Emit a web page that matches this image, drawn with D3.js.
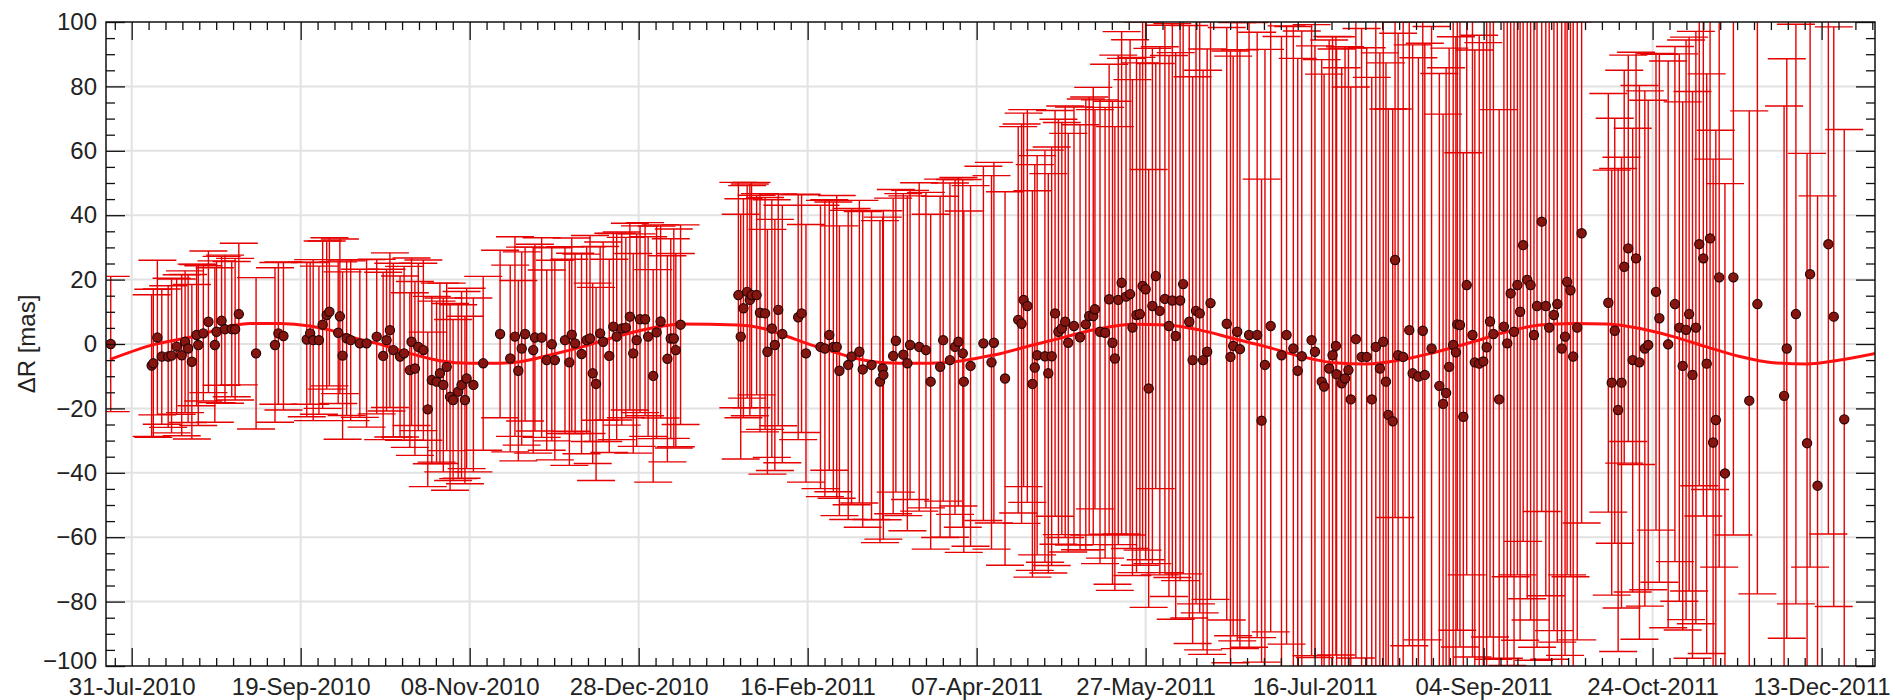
<!DOCTYPE html>
<html>
<head>
<meta charset="utf-8">
<script src="https://cdn.jsdelivr.net/npm/d3@7"></script>
<style>
  body { margin: 0; background: #fff; }
  text { font-family: "Liberation Sans", Arial, Helvetica, sans-serif; fill: #222; }
</style>
</head>
<body>
<svg id="chart"></svg>
<script>
// epochs are days counted from 31-Jul-2010
var epochDay = [-6.2,
  5.9, 6.4, 7.6, 8.9, 10.8, 11.8, 13.3, 14.8, 15.8, 16.7, 17.8, 19.2, 19.7, 21.2, 22.7, 24.6, 25.1, 26.6, 27.6, 29.6, 30.6, 31.7,
  36.8, 42.4, 43.4, 44.9,
  51.8, 52.8, 53.7, 55.4, 56.5, 57.7, 58.5, 61.1, 61.6, 62.4, 63.6, 64.8, 67.5, 69.5, 72.5, 74.4, 75.4, 76.4, 77.4,
  79.4, 80.6, 82.3, 82.8, 83.8, 84.8, 86.3, 87.6, 88.8, 90.2, 91.2, 92.2, 93.2, 94.2, 95.1, 96.6, 97.6, 98.6, 99.1, 101.1, 104.0,
  109.0, 112.0, 113.4, 114.4, 115.4, 116.4, 118.8, 119.3, 121.3, 122.8, 124.3, 125.2, 128.2, 129.5, 130.2, 131.2, 133.1, 134.6,
  135.6, 136.4, 137.4, 138.6, 139.5, 141.3, 142.5, 143.5, 145.0, 146.2, 147.4, 148.4, 149.4, 150.4, 151.9, 152.8, 154.3, 155.3,
  156.5, 158.5, 159.5, 160.4, 161.0, 162.4,
  179.5, 180.2, 181.0, 182.1, 182.9, 183.4, 184.9, 185.9, 187.4, 188.1, 189.4, 190.3, 191.3, 192.5, 197.2, 198.2, 199.5,
  203.8, 205.1, 206.4, 207.6, 208.6, 209.4, 212.0, 213.0, 215.3, 216.3, 218.9, 221.4, 222.2, 222.4, 225.3, 226.1, 228.3, 229.5,
  230.3, 233.0, 235.0, 236.4, 239.2, 240.1, 242.1, 243.6, 244.6, 245.9, 246.2, 248.2, 252.0, 254.4, 255.1, 258.4,
  262.3, 263.3, 263.9, 265.0, 266.5, 267.2, 267.9, 270.2, 271.2, 272.2, 273.2, 274.2, 275.2, 276.2, 277.1, 278.8, 280.6, 282.3,
  283.3, 284.5, 285.0, 286.5, 288.0, 289.2, 290.2, 290.9, 291.9, 292.9, 294.2, 295.4, 296.1, 297.3, 298.3, 299.1, 300.0, 300.9,
  302.0, 303.0, 304.2, 305.7, 306.9, 307.9, 308.9, 310.2, 311.1, 312.9, 313.9, 314.9, 316.0, 317.0, 318.2, 319.2,
  324.0, 325.1, 325.9, 327.1, 327.9, 330.6, 333.0, 334.3, 335.3, 337.0, 340.2, 341.7, 343.7, 345.0, 346.2, 349.1, 350.1, 352.1,
  352.8, 354.3, 355.3, 356.3, 356.5, 358.0, 359.0, 360.0, 360.7, 362.2, 363.9, 365.4, 366.9, 368.1, 369.3, 370.3, 371.1, 371.8,
  373.1, 373.8, 374.7, 376.2, 378.0, 379.0, 380.7, 382.0, 382.6, 384.6, 386.9, 388.0, 388.9, 389.8, 391.0, 391.8, 392.2, 393.0, 394.0,
  395.0, 396.7, 397.4, 398.7, 399.9, 400.9, 401.9, 402.9, 404.6, 406.0, 407.0, 408.0, 409.0, 410.0, 410.8, 411.7, 412.9, 413.9,
  414.9, 415.8, 417.2, 418.4, 419.4, 420.8, 421.8, 423.1, 424.1, 424.7, 425.7, 426.5, 427.7, 429.0,
  436.9, 437.9, 438.8, 439.8, 440.8, 441.6, 442.8, 444.1, 445.1, 446.1, 447.7, 448.7, 451.0, 452.0, 454.6, 456.6, 457.9, 458.9,
  459.9, 460.8, 461.8, 462.8, 463.8, 465.0, 466.0, 467.0, 467.9, 468.7, 469.7, 471.4, 473.9,
  478.6, 481.0, 488.9, 489.7, 492.4, 495.7, 496.6, 498.8, 502.0, 503.6, 506.7];

var offsetMas = [0.0,
  -6.7, -6.0, 2.0, -3.9, -3.9, -3.6, -0.8, -3.5, 0.7, -1.4, -5.5, 2.8, -0.3, 3.3, 6.9, -0.3, 3.8, 7.2, 4.6, 4.6, 4.6, 9.3,
  -2.9, -0.3, 3.3, 2.5,
  1.4, 3.3, 1.2, 1.2, 6.0, 9.0, 10.0, 3.5, 8.6, -3.6, 1.8, 1.2, 0.2, 0.2, 2.3, -3.7, 1.2, 4.3, -1.9,
  -3.9, -2.9, -8.1, 0.7, -7.6, -0.9, -1.9, -20.3, -11.2, -11.7, -9.1, -12.7, -7.1, -16.4, -17.4, -14.8, -12.7, -17.4, -10.7, -12.7, -6.0,
  3.1, -4.5, 2.3, -8.3, -1.4, 3.1, -1.9, 2.0, 2.0, -5.0, -0.1, -5.0, 1.2, -5.7, 2.9, 0.2, -3.1, 1.2,
  1.7, -9.1, -12.4, 3.3, 0.7, -3.7, 5.4, 2.3, 4.8, 5.1, 8.5, -2.9, 1.2, 7.7, 7.7, 2.3, -9.9, 3.6,
  7.0, -4.6, 1.7, 1.7, -1.9, 6.0,
  15.2, 2.3, 11.1, 16.2, 13.7, 15.2, 15.2, 9.7, 9.5, -2.4, 4.8, -0.3, 10.6, 3.1, 8.3, 9.5, -2.9,
  -0.9, -1.4, 2.8, -0.9, -0.9, -8.3, -6.5, -3.9, -2.4, -7.9, -6.5, -11.7, -7.6, -9.6, -3.7, 1.0, -3.3, -6.0,
  -0.3, -0.9, -1.9, -11.7, -7.1, 1.2, -5.0, -0.9, 0.7, -2.9, -11.7, -6.8, 0.2, -5.7, 0.4, -10.7,
  7.5, 6.3, 13.7, 11.8, -12.4, -7.3, -3.5, -3.8, -9.1, -3.8, 9.5, 3.8, 4.8, 6.9, 0.4, 5.6, 2.1, 6.1,
  8.7, 8.7, 10.8, 3.8, 3.5, 13.9, 0.4, -4.5, 13.7, 19.0, 14.7, 15.5, 5.1, 9.0, 9.3, 18.0, 17.0, -13.8,
  11.8, 21.1, 10.3, 14.0, 5.6, 13.5, 2.5, 13.5, 18.6, 6.9, -5.0, 10.3, 9.5, -5.0, -2.4, 12.7,
  6.3, -4.0, -0.6, 3.8, -1.6, 2.8, 2.8, -23.8, -6.5, 5.6, -3.5, 2.8, -1.4, -8.3, -3.8, 1.2, -2.4, -11.7,
  -13.2, -7.6, -3.5, -0.6, -9.4, -12.2, -10.7, -8.1, -17.2, 1.5, -4.0, -4.0, -17.2, -0.9, -7.6, 0.7, -11.7, -22.0,
  -24.0, 26.1, -3.5, -4.0, 4.3, -9.1, -10.1, 4.1, -9.6, -1.4, -13.0, -18.6, -15.2, -7.1, -0.3, -2.6, 6.1, 5.9, -22.6,
  18.3, 2.8, -5.7, -6.1, -5.4, -1.0, 7.0, 3.1, -17.2, 5.4, 0.2, 15.7, 3.8, 18.3, 10.0, 30.7, 19.9, 18.3,
  2.8, 11.8, 38.0, 11.8, 5.1, 9.0, 12.4, -1.4, 2.3, 19.3, 16.7, -3.9, 5.1, 34.4,
  12.8, -12.0, 4.1, -20.5, -12.0, 24.0, 29.7, -5.0, 26.6, -5.7, -1.4, -0.3, 16.2, 8.0, -0.1, 12.4, 5.1, -6.8,
  4.4, 9.3, -9.6, 5.1, 31.0, 26.6, -6.1, 32.8, -30.6, -23.6, 20.7, -40.2, 20.7,
  -17.6, 12.4, -16.1, -1.4, 9.3, -30.8, 21.7, -44.0, 31.0, 8.5, -23.4];

var errorMas = [21,
  22, 23, 24, 21, 22, 24, 21, 25, 22, 23, 24, 22, 25, 21, 22, 24, 22, 20, 23, 21, 22, 22,
  23.5, 24, 22, 23,
  24, 22, 25, 23, 26, 23, 23, 22, 24, 26, 24, 25, 23, 26, 24, 26, 22, 24, 27,
  25, 27, 24, 26, 27, 26, 28, 24, 26, 25, 28, 27, 26, 29, 25, 27, 29, 26, 28, 27, 27,
  26, 29, 31, 28, 30, 27, 32, 29, 31, 28, 30, 31, 29, 32, 30, 28, 31, 29,
  32, 28, 30, 27, 31, 30, 29, 32, 30, 28, 29, 31, 33, 29, 30, 31, 33, 33,
  30, 32, 31, 34, 30, 31,
  35, 38, 34, 33, 36, 35, 31, 37, 36, 38, 40, 39, 36, 40, 38, 37, 40,
  44, 46, 42, 45, 47, 45, 48, 46, 47, 49, 48, 50, 47, 51, 49, 47, 50, 52,
  48, 51, 49, 52, 53, 50, 55, 52, 51, 54, 53, 56, 55, 58, 56, 58,
  60, 62, 58, 61, 60, 63, 62, 64, 62, 65, 63, 66, 64, 67, 65, 68, 66, 70,
  68, 71, 62, 72, 70, 73, 75, 72, 76, 78, 74, 79, 77, 80, 78, 82, 84, 68,
  80, 66, 82, 85, 84, 86, 88, 87, 90, 92, 88, 91, 93, 90, 94, 92,
  92, 95, 90, 96, 93, 97, 94, 75, 98, 95, 99, 96, 100, 97, 101, 98, 95, 100,
  97, 102, 99, 96, 101, 98, 103, 100, 97, 99, 102, 96, 100, 103, 98, 101, 99, 95,
  97, 80, 100, 104, 98, 102, 99, 96, 103, 100, 97, 90, 101, 99, 102, 98, 95, 100, 82,
  90, 100, 97, 102, 99, 104, 98, 101, 90, 103, 100, 88, 105, 90, 102, 92, 99, 104,
  101, 106, 90, 90, 103, 98, 105, 102, 99, 91, 89, 104, 97, 90,
  65, 66, 66, 75, 70, 61, 60, 72, 64, 86, 80, 76, 74, 82, 88, 80, 85, 82,
  90, 86, 88, 92, 75, 80, 90, 78, 88, 90, 90, 90, 80,
  90, 90, 90, 90, 90, 90, 91, 90, 90, 90, 90];

// fitted model
var fitDay = [-6.4, 5.4, 20.2, 29.1, 35.0, 43.9, 52.8, 58.7, 64.6, 74.3, 82.3, 91.2, 100.1, 109.0, 114.9, 123.8, 133.5, 143.5,
  153.3, 162.7, 179.5, 186.9, 192.8, 199.7, 207.6, 214.5, 222.4, 232.2, 240.1, 247.0, 252.0, 256.9, 266.7, 276.6, 286.5, 296.3,
  306.2, 316.1, 325.9, 335.8, 345.7, 355.5, 365.4, 375.2, 385.1, 396.9, 406.8, 416.6, 426.5, 436.4, 446.3, 456.1, 466.0, 475.8,
  485.7, 495.6, 505.4, 516.0];
var fitMas = [-4.8, -0.5, 2.8, 5.6, 6.4, 6.4, 5.6, 4.3, 2.3, -0.3, -2.9, -5.2, -6.0, -6.0, -5.5, -3.4, -0.8, 2.3,
  4.8, 6.2, 5.9, 4.8, 2.8, 0.2, -2.4, -4.5, -5.8, -6.0, -5.8, -5.0, -4.0, -3.0, -0.3, 2.3, 4.8, 6.1,
  5.9, 4.3, 1.7, -0.9, -3.8, -5.8, -6.2, -5.0, -2.7, 0.7, 3.8, 5.9, 6.4, 6.2, 4.8, 2.3, -0.9, -3.9,
  -5.8, -6.2, -5.0, -2.9];

var tickLabels = ["31-Jul-2010", "19-Sep-2010", "08-Nov-2010", "28-Dec-2010", "16-Feb-2011", "07-Apr-2011",
  "27-May-2011", "16-Jul-2011", "04-Sep-2011", "24-Oct-2011", "13-Dec-2011"];
var yTicks = [-100, -80, -60, -40, -20, 0, 20, 40, 60, 80, 100];

var width = 1895, height = 700,
    margin = {left: 106, top: 22, right: 20, bottom: 34};
var plotW = width - margin.left - margin.right,
    plotH = height - margin.top - margin.bottom;

var t0 = Date.UTC(2010, 6, 31);
function toDate(d) { return new Date(t0 + d * 864e5); }
var parseTick = d3.utcParse("%d-%b-%Y");
var tickDates = tickLabels.map(parseTick);

var x = d3.scaleUtc()
  .domain([toDate(-7.6), toDate(515.8)])
  .range([0, plotW]);
var y = d3.scaleLinear()
  .domain([-100, 100])
  .range([plotH, 0]);

var svg = d3.select('#chart')
  .attr('width', width)
  .attr('height', height);

var g = svg.append('g')
  .attr('transform', 'translate(' + margin.left + ',' + margin.top + ')');

g.append('clipPath').attr('id', 'plot-clip')
  .append('rect').attr('width', plotW).attr('height', plotH);

// grid
g.append('g').selectAll('line').data(tickDates)
  .enter().append('line')
  .attr('x1', function (d) { return x(d); })
  .attr('x2', function (d) { return x(d); })
  .attr('y1', 0).attr('y2', plotH)
  .attr('stroke', '#e2e2e2').attr('stroke-width', 2);
g.append('g').selectAll('line').data(yTicks.slice(1, -1))
  .enter().append('line')
  .attr('x1', 0).attr('x2', plotW)
  .attr('y1', function (d) { return y(d); })
  .attr('y2', function (d) { return y(d); })
  .attr('stroke', '#e2e2e2').attr('stroke-width', 2);

var pts = epochDay.map(function (d, i) {
  return {date: toDate(d), v: offsetMas[i], e: errorMas[i]};
});

var marks = g.append('g').attr('clip-path', 'url(#plot-clip)');

// error bars
var bars = marks.append('g').attr('stroke', '#e60000').attr('stroke-width', 1.4);
bars.selectAll('line.v').data(pts)
  .enter().append('line').attr('class', 'v')
  .attr('x1', function (d) { return x(d.date); })
  .attr('x2', function (d) { return x(d.date); })
  .attr('y1', function (d) { return y(d.v - d.e); })
  .attr('y2', function (d) { return y(d.v + d.e); });
bars.selectAll('line.top').data(pts)
  .enter().append('line').attr('class', 'top')
  .attr('x1', function (d) { return x(d.date) - 19; })
  .attr('x2', function (d) { return x(d.date) + 19; })
  .attr('y1', function (d) { return y(d.v + d.e); })
  .attr('y2', function (d) { return y(d.v + d.e); });
bars.selectAll('line.bot').data(pts)
  .enter().append('line').attr('class', 'bot')
  .attr('x1', function (d) { return x(d.date) - 19; })
  .attr('x2', function (d) { return x(d.date) + 19; })
  .attr('y1', function (d) { return y(d.v - d.e); })
  .attr('y2', function (d) { return y(d.v - d.e); });

// fit curve
var fit = fitDay.map(function (d, i) { return [toDate(d), fitMas[i]]; });
marks.append('path').datum(fit)
  .attr('fill', 'none')
  .attr('stroke', '#ff1010')
  .attr('stroke-width', 3)
  .attr('d', d3.line()
    .curve(d3.curveMonotoneX)
    .x(function (d) { return x(d[0]); })
    .y(function (d) { return y(d[1]); }));

// data points
marks.append('g').selectAll('circle').data(pts)
  .enter().append('circle')
  .attr('cx', function (d) { return x(d.date); })
  .attr('cy', function (d) { return y(d.v); })
  .attr('r', 4.6)
  .attr('fill', '#861510')
  .attr('stroke', '#260404')
  .attr('stroke-width', 1.2);

// inward ticks on all four sides
var minorDays = d3.range(-5, 516, 5).filter(function (d) { return d % 50 !== 0; }).map(toDate);
var minorY = d3.range(-95, 100, 5).filter(function (d) { return d % 20 !== 0; });

function styleAxis(sel) {
  sel.select('.domain').remove();
  sel.selectAll('line').attr('stroke', '#111').attr('stroke-width', 1.3);
}

g.append('g').attr('transform', 'translate(0,' + plotH + ')')
  .call(d3.axisBottom(x).tickValues(minorDays).tickSize(-8).tickFormat(''))
  .call(styleAxis);
g.append('g').call(d3.axisTop(x).tickValues(minorDays).tickSize(-8).tickFormat(''))
  .call(styleAxis);
g.append('g').call(d3.axisTop(x).tickValues(tickDates).tickSize(-18).tickFormat(''))
  .call(styleAxis);
var xAxis = g.append('g').attr('transform', 'translate(0,' + plotH + ')')
  .call(d3.axisBottom(x).tickValues(tickDates).tickSize(-18).tickPadding(12)
    .tickFormat(function (d, i) { return tickLabels[i]; }))
  .call(styleAxis);
xAxis.selectAll('text').attr('font-size', 24).attr('fill', '#222');

g.append('g').call(d3.axisLeft(y).tickValues(minorY).tickSize(-9).tickFormat(''))
  .call(styleAxis);
g.append('g').attr('transform', 'translate(' + plotW + ',0)')
  .call(d3.axisRight(y).tickValues(minorY).tickSize(-9).tickFormat(''))
  .call(styleAxis);
g.append('g').attr('transform', 'translate(' + plotW + ',0)')
  .call(d3.axisRight(y).tickValues(yTicks).tickSize(-19).tickFormat(''))
  .call(styleAxis);
var yAxis = g.append('g')
  .call(d3.axisLeft(y).tickValues(yTicks).tickSize(-19).tickPadding(9))
  .call(styleAxis);
yAxis.selectAll('text').attr('font-size', 24).attr('fill', '#222')
  .attr('dy', function (d) { return d === -100 ? '0.12em' : '0.32em'; });

// frame
g.append('rect')
  .attr('width', plotW).attr('height', plotH)
  .attr('fill', 'none').attr('stroke', '#111').attr('stroke-width', 1.5);

svg.append('text')
  .attr('transform', 'translate(35,' + (margin.top + y(0)) + ') rotate(-90)')
  .attr('text-anchor', 'middle')
  .attr('font-size', 24)
  .text('\u0394R [mas]');
</script>
</body>
</html>
